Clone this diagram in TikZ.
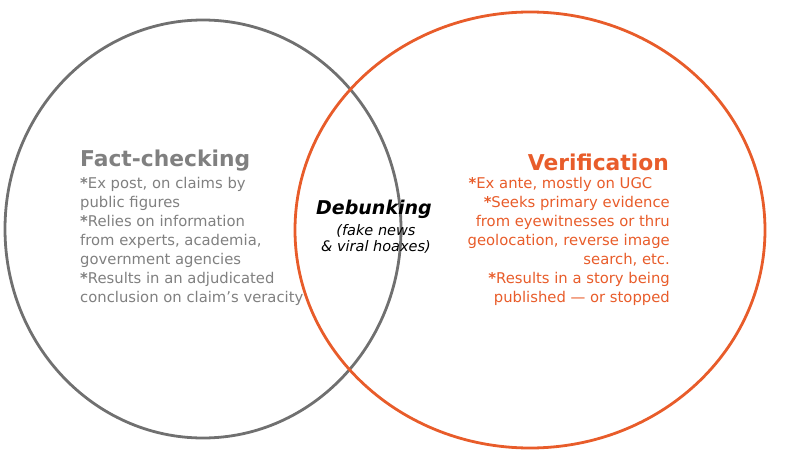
\documentclass[tikz,border=0pt]{standalone}
\usepackage{fontspec}
\setmainfont{DejaVu Sans}
\definecolor{factgray}{RGB}{112,112,112}
\definecolor{txtgray}{RGB}{128,128,128}
\definecolor{verorange}{RGB}{232,92,42}
\begin{document}
\begin{tikzpicture}[x=1pt,y=-1pt,
	bodytext/.style={font=\fontsize{14.8}{19}\selectfont, inner sep=0pt},
	headtext/.style={font=\fontsize{21.8}{24}\selectfont\bfseries, inner sep=0pt}]
	\useasboundingbox (0,0) rectangle (800,455);
	\draw[factgray, line width=2.8pt] (203,229) ellipse (198 and 209);
	\draw[verorange, line width=2.8pt] (530,230) ellipse (235 and 218);
	
	\node[headtext, text=txtgray, anchor=west] (facttitle) at (80,161) {Fact-checking};
	\node[bodytext, text=txtgray, align=left, anchor=north west] (factbody) at (80,177)
		{\textbf{*}Ex post, on claims by\\public figures\\\textbf{*}Relies on information\\from experts, academia,\\government agencies\\\textbf{*}Results in an adjudicated\\conclusion on claim’s veracity};
	
	\node[headtext, text=verorange, anchor=east] (vertitle) at (669,162) {Verification};
	\node[bodytext, text=verorange, align=right, anchor=north east] (verbody) at (670,177)
		{\textbf{*}Ex ante, mostly on UGC\hphantom{xx}\\\textbf{*}Seeks primary evidence\\from eyewitnesses or thru\\geolocation, reverse image\\search, etc.\\\textbf{*}Results in a story being\\published — or stopped};
	
	\node[headtext, font=\fontsize{19}{22}\selectfont\bfseries\itshape, anchor=center] (debunk) at (374,209) {Debunking};
	\node[bodytext, font=\fontsize{14.5}{16}\selectfont\itshape, align=center, anchor=north] (debsub) at (376,224)
		{(fake news\\\& viral hoaxes)};
\end{tikzpicture}
\end{document}
